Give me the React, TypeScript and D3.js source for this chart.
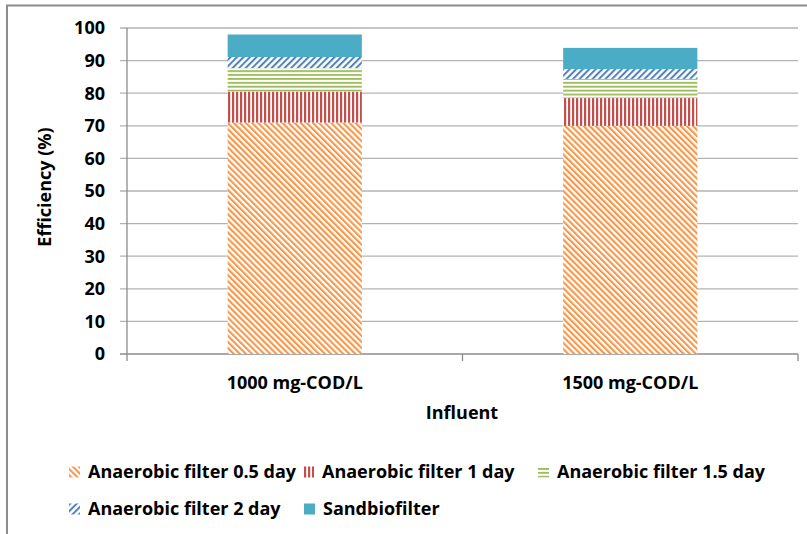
import React from "react";
import * as d3 from "d3";

const categories = ["1000 mg-COD/L", "1500 mg-COD/L"];
const seriesNames = [
  "Anaerobic filter 0.5 day",
  "Anaerobic filter 1 day",
  "Anaerobic filter 1.5 day",
  "Anaerobic filter 2 day",
  "Sandbiofilter",
];
const af05 = [71, 70];
const af1 = [9.5, 8.5];
const af15 = [7.2, 5.9];
const af2 = [3.4, 3.0];
const sand = [6.9, 6.5];
const yTicks = [0, 10, 20, 30, 40, 50, 60, 70, 80, 90, 100];

const colors = ["#F79646", "#C0504D", "#9BBB59", "#4F81BD", "#4BACC6"];
const patternIds = ["p-orange", "p-red", "p-green", "p-blue", null];

const W = 807;
const H = 534;
const margin = { left: 127, right: 798, top: 28, bottom: 354 };
const font = "'Open Sans', 'Noto Sans', sans-serif";
const fs = 18;
const fw = 700;

export default function App() {
  const x = d3
    .scaleBand<string>()
    .domain(categories)
    .range([margin.left, margin.right])
    .paddingInner(0.6)
    .paddingOuter(0.3);
  const xBand = d3.scaleBand<string>().domain(categories).range([margin.left, margin.right]);
  const y = d3.scaleLinear().domain([0, 100]).range([margin.bottom, margin.top]);

  const rows = categories.map((c, i) => ({
    cat: c,
    s0: af05[i],
    s1: af1[i],
    s2: af15[i],
    s3: af2[i],
    s4: sand[i],
  }));
  const stack = d3.stack<any>().keys(["s0", "s1", "s2", "s3", "s4"])(rows);

  const fillFor = (k: number) => (patternIds[k] ? `url(#${patternIds[k]})` : colors[k]);

  const legendItems = [
    { k: 0, x: 69, y: 472 },
    { k: 1, x: 303, y: 472 },
    { k: 2, x: 538, y: 472 },
    { k: 3, x: 69, y: 509 },
    { k: 4, x: 304, y: 509 },
  ];

  return (
    <svg
      width={W}
      height={H}
      style={{ position: "absolute", left: 0, top: 0, background: "#fff" }}
    >
      <defs>
        <pattern id="p-orange" patternUnits="userSpaceOnUse" width={4.3} height={4.3} patternTransform="rotate(-45)">
          <rect width={4.3} height={4.3} fill="#fff" />
          <rect width={2.1} height={4.3} fill={colors[0]} />
        </pattern>
        <pattern id="p-red" patternUnits="userSpaceOnUse" width={4} height={4}>
          <rect width={4} height={4} fill="#fff" />
          <rect width={2.2} height={4} fill={colors[1]} />
        </pattern>
        <pattern id="p-green" patternUnits="userSpaceOnUse" width={4} height={3.9}>
          <rect width={4} height={3.9} fill="#fff" />
          <rect width={4} height={1.8} fill={colors[2]} />
        </pattern>
        <pattern id="p-blue" patternUnits="userSpaceOnUse" width={4.6} height={4.6} patternTransform="rotate(45)">
          <rect width={4.6} height={4.6} fill="#fff" />
          <rect width={2} height={4.6} fill={colors[3]} />
        </pattern>
      </defs>

      {/* outer border */}
      <rect x={7} y={5.5} width={830} height={560} fill="none" stroke="#8c8c8c" strokeWidth={2} />

      {/* gridlines */}
      {yTicks.map((t) => (
        <line
          key={"g" + t}
          x1={margin.left - 7}
          x2={margin.right}
          y1={y(t)}
          y2={y(t)}
          stroke={t === 0 ? "#8c8c8c" : "#b3b3b3"}
          strokeWidth={1.3}
        />
      ))}
      {/* y axis line */}
      <line x1={margin.left} x2={margin.left} y1={margin.top} y2={margin.bottom + 7} stroke="#8c8c8c" strokeWidth={1.3} />
      {/* x category ticks */}
      {categories.map((c) => (
        <line
          key={"xt" + c}
          x1={(xBand(c) as number) + xBand.bandwidth()}
          x2={(xBand(c) as number) + xBand.bandwidth()}
          y1={margin.bottom}
          y2={margin.bottom + 7}
          stroke="#8c8c8c"
          strokeWidth={1.3}
        />
      ))}

      {/* y tick labels */}
      {yTicks.map((t) => (
        <text
          key={"yl" + t}
          x={105}
          y={y(t)}
          dy="0.36em"
          textAnchor="end"
          fontFamily={font}
          fontWeight={fw}
          fontSize={fs}
          fill="#000"
        >
          {t}
        </text>
      ))}

      {/* bars */}
      {stack.map((layer, k) =>
        layer.map((d, i) => (
          <rect
            key={`b${k}-${i}`}
            x={x(categories[i]) as number}
            width={x.bandwidth()}
            y={y(d[1])}
            height={y(d[0]) - y(d[1])}
            fill={fillFor(k)}
          />
        ))
      )}

      {/* category labels */}
      {categories.map((c) => (
        <text
          key={"cl" + c}
          x={(x(c) as number) + x.bandwidth() / 2}
          y={383}
          dy="0.36em"
          textAnchor="middle"
          fontFamily={font}
          fontWeight={fw}
          fontSize={fs}
          fill="#000"
        >
          {c}
        </text>
      ))}

      {/* axis titles */}
      <text x={462} y={413} dy="0.36em" textAnchor="middle" fontFamily={font} fontWeight={fw} fontSize={fs}>
        Influent
      </text>
      <text
        transform={`translate(45, ${y(50) - 4}) rotate(-90)`}
        textAnchor="middle"
        dy="0.36em"
        fontFamily={font}
        fontWeight={fw}
        fontSize={fs}
      >
        Efficiency (%)
      </text>

      {/* legend */}
      {legendItems.map((it) => (
        <g key={"lg" + it.k}>
          <rect x={it.x} y={it.y - 5.5} width={11} height={11} fill={fillFor(it.k)} />
          <text x={it.x + 19} y={it.y} dy="0.36em" fontFamily={font} fontWeight={fw} fontSize={fs}>
            {seriesNames[it.k]}
          </text>
        </g>
      ))}
    </svg>
  );
}
